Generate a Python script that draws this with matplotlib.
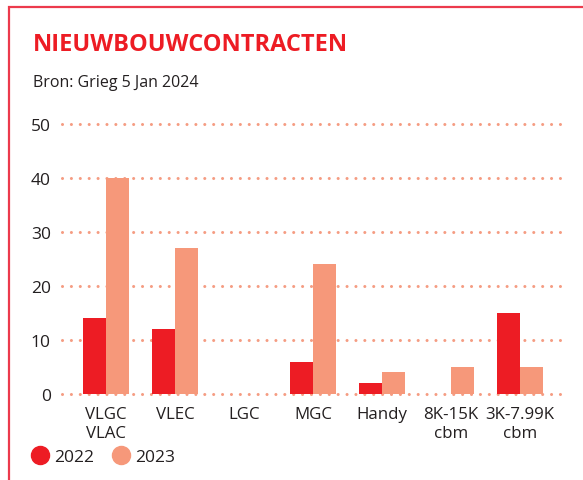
import matplotlib
matplotlib.use("Agg")
import matplotlib.pyplot as plt
from matplotlib.lines import Line2D
from matplotlib.patches import Rectangle
import numpy as np

plt.rcParams['font.family'] = ['Open Sans', 'DejaVu Sans']

# Data
categories = ["VLGC\nVLAC", "VLEC", "LGC", "MGC", "Handy", "8K-15K\ncbm", "3K-7.99K\ncbm"]
years = ["2022", "2023"]
values_2022 = [14, 12, 0, 6, 2, 0, 15]
values_2023 = [40, 27, 0, 24, 4, 5, 5]
yticks = [0, 10, 20, 30, 40, 50]

RED = "#ED1C24"
SALMON = "#F6987A"
DOT = "#F59C82"
TEXT = "#231F20"
BORDER = "#EC3A4C"

W, H = 583, 481
fig = plt.figure(figsize=(W / 100, H / 100), dpi=100)

# axes placed in pixel terms
left, right, bottom, top = 62, 562, 395, 125
ax = fig.add_axes([left / W, 1 - bottom / H, (right - left) / W, (bottom - top) / H])

x = np.arange(len(categories))
bw = 0.33
ax.bar(x - bw / 2, values_2022, width=bw, color=RED, zorder=3)
ax.bar(x + bw / 2, values_2023, width=bw, color=SALMON, zorder=3)

ax.set_xlim(-0.638, 6.61)
ax.set_ylim(0, 50)
ax.set_yticks(yticks)
ax.set_xticks(x)
ax.set_xticklabels(categories, fontsize=12.2, color=TEXT, linespacing=1.2)
ax.tick_params(axis='y', length=0, labelsize=12.5, labelcolor=TEXT, pad=8)
ax.tick_params(axis='x', length=0, pad=9)
for s in ax.spines.values():
    s.set_visible(False)

ax.yaxis.grid(True, color=DOT, linewidth=2.2, linestyle=(0, (0.01, 2.9)), zorder=1)
ax.set_axisbelow(True)
for gl in ax.get_ygridlines():
    gl.set_dash_capstyle('round')
    gl.set_clip_on(False)

# title & source
fig.text(33 / W, 1 - 45 / H, "NIEUWBOUWCONTRACTEN", color=RED, fontsize=17,
         fontweight='bold', va='center', ha='left')
fig.text(33 / W, 1 - 83 / H, "Bron: Grieg 5 Jan 2024", color=TEXT, fontsize=11.5,
         va='center', ha='left')

# legend
handles = [Line2D([], [], marker='o', linestyle='none', markersize=13, color=RED),
           Line2D([], [], marker='o', linestyle='none', markersize=13, color=SALMON)]
fig.legend(handles, years, loc='center left', bbox_to_anchor=(31 / W, 1 - 458 / H),
           ncol=2, frameon=False, handlelength=1.05, handletextpad=0.3,
           columnspacing=1.0, borderaxespad=0, borderpad=0, fontsize=12.5,
           labelcolor=TEXT)

# frame on left and top
fig.add_artist(Rectangle((9 / W, -0.1), 1.1, 1.1 - 8 / H, transform=fig.transFigure,
                         fill=False, edgecolor=BORDER, linewidth=1.6))

fig.savefig("out.png", dpi=100)
